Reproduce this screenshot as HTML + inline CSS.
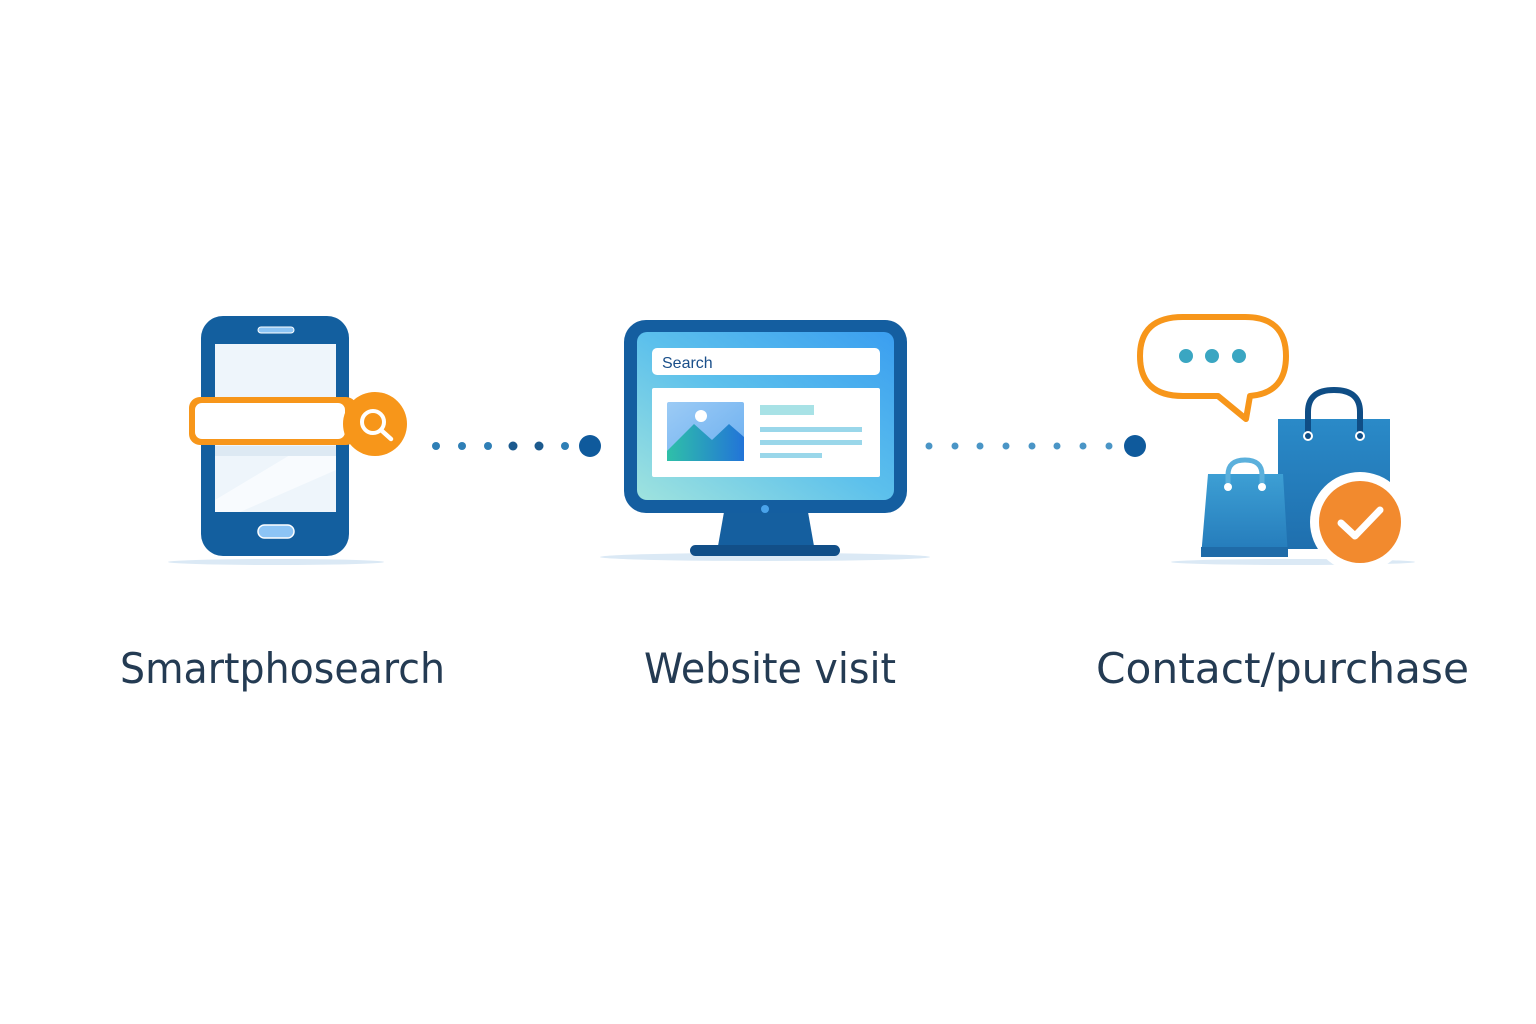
<!DOCTYPE html>
<html><head><meta charset="utf-8"><style>html,body{margin:0;padding:0;background:#fff}svg{display:block}</style></head>
<body>
<svg width="1536" height="1024" viewBox="0 0 1536 1024" xmlns="http://www.w3.org/2000/svg">
<defs>
<linearGradient id="scr" x1="0" y1="1" x2="1" y2="0"><stop offset="0" stop-color="#9fe3de"/><stop offset="0.5" stop-color="#5cc0ec"/><stop offset="1" stop-color="#3a9ef0"/></linearGradient>
<linearGradient id="img" x1="0" y1="0" x2="1" y2="1"><stop offset="0" stop-color="#9ccbf5"/><stop offset="1" stop-color="#6aaef0"/></linearGradient>
<linearGradient id="mtn" x1="0" y1="0" x2="1" y2="0"><stop offset="0" stop-color="#2fc0a8"/><stop offset="1" stop-color="#2274d8"/></linearGradient>
<linearGradient id="bag" x1="0" y1="0" x2="0" y2="1"><stop offset="0" stop-color="#2a8ac8"/><stop offset="1" stop-color="#1f6fae"/></linearGradient>
<linearGradient id="bag2" x1="0" y1="0" x2="0" y2="1"><stop offset="0" stop-color="#3d9fd4"/><stop offset="1" stop-color="#2379b9"/></linearGradient>
</defs>
<!-- shadows -->
<ellipse cx="276" cy="562" rx="108" ry="3" fill="#dbe9f5"/>
<ellipse cx="765" cy="557" rx="165" ry="4" fill="#dbe9f5"/>
<ellipse cx="1293" cy="562" rx="122" ry="3" fill="#dbe9f5"/>
<!-- phone -->
<rect x="201" y="316" width="148" height="240" rx="22" fill="#135f9f"/>
<rect x="215" y="344" width="121" height="168" fill="#eef5fb"/>
<path d="M215 500 L290 455 L336 455 L336 470 L240 512 L215 512Z" fill="#f8fbfe"/>
<rect x="258" y="327" width="36" height="6" rx="3" fill="#8cc4f5" stroke="#fff" stroke-width="1"/>
<rect x="258" y="525" width="36" height="13" rx="6.5" fill="#8cc4f5" stroke="#fff" stroke-width="1.5"/>
<rect x="215" y="446" width="121" height="10" fill="#dde9f3"/>
<rect x="189" y="397" width="168" height="48" rx="11" fill="#f7961a"/>
<rect x="195" y="403" width="150" height="36" rx="7" fill="#fff"/>
<circle cx="375" cy="424" r="32" fill="#f7961a"/>
<circle cx="373" cy="422" r="11" fill="none" stroke="#fff" stroke-width="4"/>
<line x1="381" y1="430" x2="391" y2="439" stroke="#fff" stroke-width="4.5" stroke-linecap="round"/>
<!-- dots -->
<g fill="#2f7fb6"><circle cx="436" cy="446" r="4"/><circle cx="462" cy="446" r="4"/><circle cx="488" cy="446" r="4"/><circle cx="513" cy="446" r="4.5" fill="#1c5a8e"/><circle cx="539" cy="446" r="4.5" fill="#1c5a8e"/><circle cx="565" cy="446" r="4"/></g>
<circle cx="590" cy="446" r="11" fill="#0f5a9c"/>
<g fill="#4a95c6"><circle cx="929" cy="446" r="3.5"/><circle cx="955" cy="446" r="3.5"/><circle cx="980" cy="446" r="3.5"/><circle cx="1006" cy="446" r="3.5"/><circle cx="1032" cy="446" r="3.5"/><circle cx="1057" cy="446" r="3.5"/><circle cx="1083" cy="446" r="3.5"/><circle cx="1109" cy="446" r="3.5"/></g>
<circle cx="1135" cy="446" r="11" fill="#0f5a9c"/>
<!-- monitor -->
<path d="M724 512 L808 512 L814 546 L718 546Z" fill="#155f9f"/>
<rect x="690" y="545" width="150" height="11" rx="5.5" fill="#124f88"/>
<rect x="624" y="320" width="283" height="193" rx="22" fill="#145ea0"/>
<rect x="637" y="332" width="257" height="168" rx="10" fill="url(#scr)"/>
<rect x="652" y="348" width="228" height="27" rx="5" fill="#fff"/>
<text x="662" y="368" font-family="Liberation Sans, sans-serif" font-size="16" fill="#1a4f8a">Search</text>
<rect x="652" y="388" width="228" height="89" rx="2" fill="#fff"/>
<rect x="667" y="402" width="77" height="59" rx="2" fill="url(#img)"/>
<path d="M667 451 L694 424 L712 440 L729 424 L744 437 L744 461 L667 461Z" fill="url(#mtn)"/>
<circle cx="701" cy="416" r="6" fill="#fff"/>
<rect x="760" y="405" width="54" height="10" fill="#a8e2e6"/>
<rect x="760" y="427" width="102" height="5" fill="#9ad7ea"/>
<rect x="760" y="440" width="102" height="5" fill="#9ad7ea"/>
<rect x="760" y="453" width="62" height="5" fill="#9ad7ea"/>
<circle cx="765" cy="509" r="4" fill="#4aa3ea"/>
<!-- speech bubble -->
<path d="M1183 317 L1245 317 Q1286 317 1286 356 Q1286 393 1250 396 L1246 419 L1218 396 L1183 396 Q1140 396 1140 356 Q1140 317 1183 317Z" fill="#fff" stroke="#f7961a" stroke-width="6" stroke-linejoin="round"/>
<g fill="#3aa6c2"><circle cx="1186" cy="356" r="7"/><circle cx="1212" cy="356" r="7"/><circle cx="1239" cy="356" r="7"/></g>
<!-- big bag -->
<rect x="1278" y="419" width="112" height="130" fill="url(#bag)"/>
<path d="M1308 435 L1308 412 Q1308 390 1334 390 Q1360 390 1360 412 L1360 435" fill="none" stroke="#0f4d85" stroke-width="6"/>
<circle cx="1308" cy="436" r="5" fill="#fff"/><circle cx="1360" cy="436" r="5" fill="#fff"/>
<circle cx="1308" cy="436" r="3" fill="#0f4d85"/><circle cx="1360" cy="436" r="3" fill="#0f4d85"/>
<!-- small bag -->
<path d="M1208 474 L1283 474 L1288 557 L1201 557Z" fill="url(#bag2)"/>
<rect x="1201" y="547" width="87" height="10" fill="#1f6ba8"/>
<path d="M1228 486 L1228 475 Q1228 460 1245 460 Q1262 460 1262 475 L1262 486" fill="none" stroke="#5bb0dc" stroke-width="5"/>
<circle cx="1228" cy="487" r="4" fill="#fff"/><circle cx="1262" cy="487" r="4" fill="#fff"/>
<!-- check -->
<circle cx="1360" cy="522" r="50" fill="#fff"/>
<circle cx="1360" cy="522" r="41" fill="#f28a2e"/>
<path d="M1341 523 L1355 536 L1380 510" fill="none" stroke="#fff" stroke-width="7" stroke-linecap="round" stroke-linejoin="round"/>
<!-- labels -->
<g font-family="DejaVu Sans, Liberation Sans, sans-serif" font-size="42" fill="#243b53">
<text x="120" y="683" textLength="325" lengthAdjust="spacingAndGlyphs">Smartphosearch</text>
<text x="644" y="683" textLength="252" lengthAdjust="spacingAndGlyphs">Website visit</text>
<text x="1096" y="683" textLength="373" lengthAdjust="spacingAndGlyphs">Contact/purchase</text>
</g>
</svg>
</body></html>
